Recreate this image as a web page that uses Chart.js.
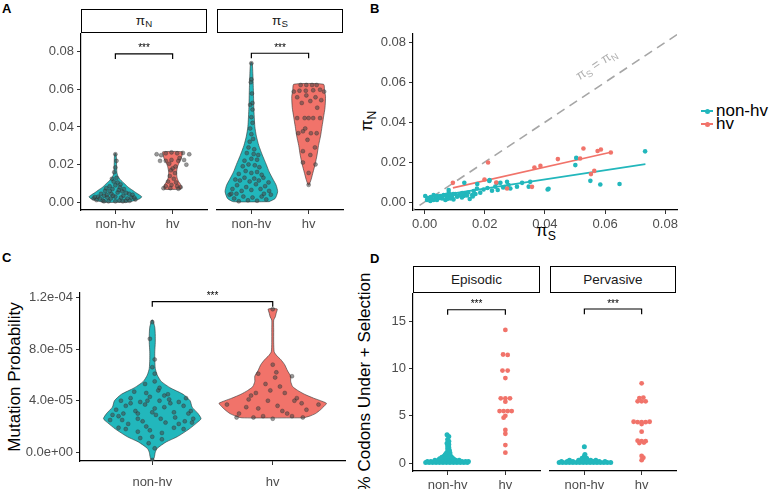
<!DOCTYPE html>
<html>
<head>
<meta charset="utf-8">
<script src="https://cdn.jsdelivr.net/npm/chart.js@4.4.1/dist/chart.umd.min.js"></script>
<style>
  body { margin: 0; background: #fff; font-family: 'Liberation Sans', Arial, sans-serif; }
  #fig { position: relative; width: 769px; height: 489px; overflow: hidden; }
  #fig canvas { position: absolute; }
  .strip { position: absolute; border: 1.3px solid #000; box-sizing: border-box; text-align: center; font-size: 13.5px; color: #1a1a1a; }
  .tag { position: absolute; font-weight: bold; font-size: 13px; line-height: 13px; }
  .lab { position: absolute; font-size: 17px; white-space: nowrap; color: #000; transform: translate(-50%, -50%); }
  .rot { transform: translate(-50%, -50%) rotate(-90deg); }
  .lab sub, .strip sub { font-size: 0.72em; vertical-align: -0.25em; }
  .key { position: absolute; }
</style>
</head>
<body>
<div id="fig">
  <div class="tag" style="left:2px;top:2px">A</div>
  <div class="tag" style="left:370px;top:2px">B</div>
  <div class="tag" style="left:2px;top:251px">C</div>
  <div class="tag" style="left:370px;top:252px">D</div>

  <div class="strip" style="left:81px;top:9px;width:126px;height:24px;line-height:22px">π<sub>N</sub></div>
  <div class="strip" style="left:217px;top:9px;width:126px;height:24px;line-height:22px">π<sub>S</sub></div>
  <div class="strip" id="stripD1" style="left:413px;top:266px;width:127px;height:27px;line-height:25px"></div>
  <div class="strip" id="stripD2" style="left:550px;top:266px;width:126px;height:27px;line-height:25px"></div>

  <div class="lab rot" style="left:368px;top:121px">π<sub>N</sub></div>
  <div class="lab" style="left:546px;top:232px">π<sub>S</sub></div>
  <div class="lab rot" style="left:15px;top:377px">Mutation Probability</div>
  <div class="lab rot" style="left:365px;top:382px">% Codons Under + Selection</div>

  <div id="legendB"></div>

  <canvas id="a1"></canvas>
  <canvas id="a2"></canvas>
  <canvas id="b"></canvas>
  <canvas id="c"></canvas>
  <canvas id="d1"></canvas>
  <canvas id="d2"></canvas>
</div>

<script>
// ---- data ----
const groups = ['non-hv', 'hv'];
const facetsD = ['Episodic', 'Pervasive'];

const ticksA = [0, 0.02, 0.04, 0.06, 0.08];
const ticksB = [0, 0.02, 0.04, 0.06, 0.08];
const ticksC = [0, 4e-5, 8e-5, 1.2e-4];
const tickLabelsC = ['0.0e+00', '4.0e-05', '8.0e-05', '1.2e-04'];
const ticksD = [0, 5, 10, 15];

// violin profiles: [value, half width in category units]
const violinPiNNon = [[0, 0.2], [0.001, 0.347], [0.002, 0.433], [0.003, 0.459], [0.004, 0.416], [0.005, 0.364],
  [0.0065, 0.295], [0.008, 0.225], [0.010, 0.156], [0.012, 0.087], [0.014, 0.043], [0.016, 0.026],
  [0.020, 0.021], [0.024, 0.017], [0.0259, 0.009]];
const violinPiNHv = [[0.0069, 0.139], [0.008, 0.156], [0.0095, 0.139], [0.011, 0.104], [0.013, 0.078], [0.016, 0.069],
  [0.019, 0.087], [0.021, 0.113], [0.023, 0.147], [0.025, 0.165], [0.0268, 0.173]];
const violinPiSNon = [[0.0003, 0.312], [0.002, 0.416], [0.0056, 0.459], [0.009, 0.433], [0.012, 0.381], [0.016, 0.312],
  [0.020, 0.26], [0.025, 0.191], [0.030, 0.13], [0.035, 0.087], [0.040, 0.061], [0.050, 0.043],
  [0.060, 0.035], [0.068, 0.026], [0.0738, 0.014]];
const violinPiSHv = [[0.0092, 0.009], [0.012, 0.043], [0.016, 0.078], [0.020, 0.113], [0.025, 0.147], [0.030, 0.173],
  [0.035, 0.208], [0.040, 0.234], [0.045, 0.26], [0.050, 0.286], [0.056, 0.295], [0.059, 0.277], [0.0624, 0.26]];
// mutation probability in units of 1e-5
const violinMutNon = [[-0.65, 0.004], [-0.4, 0.017], [0, 0.025], [0.3, 0.041], [0.8, 0.116], [1.2, 0.207], [1.8, 0.306],
  [2.3, 0.372], [2.6, 0.405], [3.0, 0.38], [3.5, 0.331], [4.0, 0.314], [4.5, 0.256], [5.0, 0.149], [5.5, 0.074],
  [6.0, 0.041], [6.5, 0.025], [7.2, 0.021], [7.8, 0.021], [8.5, 0.025], [9.1, 0.025], [9.7, 0.021], [10.26, 0.004]];
const violinMutHv = [[2.67, 0.256], [2.8, 0.306], [3.0, 0.355], [3.3, 0.397], [3.6, 0.43], [3.8, 0.446], [4.0, 0.397],
  [4.2, 0.339], [4.5, 0.264], [4.8, 0.207], [5.1, 0.165], [5.5, 0.149], [5.9, 0.149], [6.3, 0.124], [6.8, 0.099],
  [7.2, 0.066], [7.5, 0.033], [7.8, 0.012], [8.5, 0.008], [9.5, 0.008], [10.26, 0.008], [10.5, 0.021],
  [10.8, 0.029], [11.12, 0.037]];

// jittered observations: [offset from category, value]
const piNNon = [[-0.38, 0.002], [-0.30, 0.003], [-0.22, 0.001], [-0.15, 0.004], [-0.08, 0.002], [0, 0.003], [0.07, 0.001],
  [0.14, 0.0035], [0.21, 0.002], [0.28, 0.0025], [0.35, 0.0015], [-0.33, 0.0012], [-0.25, 0.0045], [-0.12, 0.0005],
  [0.04, 0.0052], [0.18, 0.0008], [0.30, 0.004], [-0.18, 0.006], [-0.05, 0.007], [0.06, 0.0065], [0.12, 0.0058],
  [-0.10, 0.0085], [0, 0.009], [0.08, 0.008], [-0.03, 0.011], [0.04, 0.0105], [-0.06, 0.0125], [0.02, 0.013],
  [0, 0.0185], [0.02, 0.022], [0, 0.0255], [-0.02, 0.016], [-0.20, 0.0035], [0.24, 0.0045], [-0.27, 0.002],
  [0.10, 0.0025], [-0.14, 0.0025], [0.19, 0.005], [-0.07, 0.0045], [0, 0.0005], [0.13, 0.0005], [-0.20, 0.0005],
  [0.25, 0.0008], [-0.10, 0.006], [0.15, 0.007], [-0.16, 0.0075], [0.09, 0.0095], [-0.04, 0.0035], [0.33, 0.0025],
  [-0.36, 0.0028]];
const piNHv = [[-0.28, 0.0255], [-0.20, 0.025], [-0.12, 0.026], [-0.02, 0.0265], [0.08, 0.026], [0.18, 0.0262],
  [0.29, 0.0255], [-0.22, 0.022], [-0.12, 0.022], [-0.02, 0.0225], [0.10, 0.022], [0.20, 0.0225], [0.24, 0.02],
  [-0.06, 0.0205], [0.05, 0.019], [-0.03, 0.017], [0.04, 0.0155], [-0.05, 0.014], [0.02, 0.0125], [-0.08, 0.011],
  [0.06, 0.0105], [-0.12, 0.0085], [-0.02, 0.0092], [0.08, 0.0085], [0.14, 0.008], [-0.16, 0.0075], [0.10, 0.0072],
  [-0.04, 0.0075], [0, 0.018], [0.12, 0.0235]];
const piSNon = [[-0.38, 0.004], [-0.30, 0.002], [-0.22, 0.0005], [-0.14, 0.003], [-0.06, 0.001], [0.02, 0.0025],
  [0.10, 0.0008], [0.18, 0.003], [0.26, 0.0015], [0.34, 0.004], [-0.33, 0.007], [-0.25, 0.009], [-0.17, 0.006],
  [-0.09, 0.008], [0, 0.0065], [0.08, 0.0095], [0.16, 0.007], [0.24, 0.0085], [0.31, 0.006], [-0.28, 0.012],
  [-0.20, 0.0115], [-0.12, 0.013], [-0.03, 0.011], [0.05, 0.0125], [0.13, 0.0115], [0.21, 0.013], [-0.22, 0.015],
  [-0.10, 0.0165], [0, 0.0155], [0.10, 0.016], [0.18, 0.0145], [-0.15, 0.019], [-0.05, 0.02], [0.06, 0.0195],
  [0.14, 0.0185], [-0.12, 0.022], [0, 0.023], [0.10, 0.0225], [-0.08, 0.026], [0.04, 0.0255], [0.12, 0.025],
  [-0.05, 0.029], [0.05, 0.028], [-0.03, 0.032], [0.03, 0.0335], [0, 0.036], [-0.02, 0.039], [0.02, 0.042],
  [0, 0.045], [0.02, 0.049], [-0.02, 0.0515], [0.02, 0.0525], [0.01, 0.0575], [-0.01, 0.0635], [0, 0.065],
  [0, 0.0735], [-0.35, 0.0045], [0.30, 0.0105], [-0.26, 0.0045], [0.22, 0.0045]];
const piSHv = [[-0.14, 0.062], [-0.04, 0.062], [0.06, 0.062], [0.14, 0.062], [-0.26, 0.0585], [0.27, 0.0585],
  [-0.16, 0.059], [-0.05, 0.059], [0.08, 0.0592], [0.20, 0.0595], [-0.20, 0.0555], [-0.04, 0.0565], [0.12, 0.0555],
  [0.22, 0.054], [-0.12, 0.0525], [0.03, 0.0535], [-0.20, 0.0445], [-0.07, 0.0445], [0, 0.0445], [0.08, 0.0445],
  [0.20, 0.0445], [-0.18, 0.0365], [-0.10, 0.0375], [0.04, 0.0365], [0.14, 0.0365], [-0.02, 0.033], [0.11, 0.029],
  [-0.10, 0.027], [0.03, 0.025], [-0.10, 0.021], [0.12, 0.02], [0, 0.0155], [-0.06, 0.039], [0.15, 0.05], [0, 0.0092]];
const mutNon = [[-0.35, 2.5], [-0.28, 2.8], [-0.20, 2.2], [-0.12, 2.6], [-0.05, 2.0], [0.03, 2.9], [0.11, 2.3], [0.19, 2.7],
  [0.27, 2.4], [0.34, 2.6], [-0.30, 3.3], [-0.22, 3.6], [-0.14, 3.2], [-0.06, 3.7], [0.02, 3.4], [0.10, 3.5],
  [0.18, 3.1], [0.26, 3.6], [0.32, 3.2], [-0.26, 4.0], [-0.18, 4.2], [-0.10, 3.9], [-0.02, 4.3], [0.06, 4.0],
  [0.14, 4.1], [0.22, 3.9], [0.28, 4.2], [-0.15, 4.7], [-0.05, 4.6], [0.05, 4.8], [0.13, 4.5], [-0.06, 5.3],
  [0.02, 5.5], [0.06, 5.0], [-0.22, 1.8], [-0.12, 1.6], [-0.02, 1.7], [0.08, 1.5], [0.18, 1.9], [-0.28, 1.9],
  [0.26, 1.8], [-0.10, 1.1], [0, 1.2], [0.08, 1.0], [-0.03, 0.7], [0.02, 0.3], [0, -0.6], [0, 6.6], [0.02, 7.2],
  [-0.02, 8.8], [0, 10.1], [0.02, 6.1], [-0.33, 2.9], [0.30, 3.0], [-0.24, 3.0], [0.22, 2.2], [-0.08, 2.4],
  [0.15, 3.8], [-0.18, 3.8], [0.07, 2.6], [-0.12, 3.0], [0, 3.1], [0.10, 4.4], [-0.25, 2.5], [0.33, 2.3], [-0.04, 4.0]];
const mutHv = [[-0.38, 3.7], [-0.28, 3.0], [-0.20, 4.1], [-0.12, 3.4], [-0.04, 4.0], [0.04, 3.6], [0.12, 3.0], [0.20, 4.2],
  [0.28, 3.3], [0.38, 3.7], [-0.30, 2.7], [-0.16, 2.7], [0, 2.6], [0.16, 2.8], [0.25, 2.7], [-0.08, 2.8],
  [-0.14, 4.6], [-0.02, 4.8], [0.10, 4.6], [0.18, 4.0], [-0.06, 5.3], [0.06, 5.1], [-0.12, 6.1], [0.02, 5.8],
  [0.16, 5.9], [0, 6.8], [0.03, 6.2], [-0.18, 4.4], [0.08, 3.2], [0, 11.1], [-0.22, 3.5], [0.24, 3.8]];
const epiNon = [[-0.38, 0.05], [-0.32, 0.05], [-0.26, 0.05], [-0.20, 0.05], [-0.14, 0.05], [-0.08, 0.05], [-0.02, 0.05],
  [0.04, 0.05], [0.10, 0.05], [0.16, 0.05], [0.22, 0.05], [0.28, 0.05], [0.34, 0.05],
  [-0.35, 0.15], [-0.29, 0.15], [-0.23, 0.15], [-0.17, 0.15], [-0.11, 0.15], [-0.05, 0.15], [0.01, 0.15],
  [0.07, 0.15], [0.13, 0.15], [0.19, 0.15], [0.25, 0.15], [0.31, 0.15], [0.36, 0.15],
  [-0.22, 0.3], [-0.16, 0.3], [-0.10, 0.3], [-0.04, 0.3], [0.02, 0.3], [0.08, 0.3], [0.14, 0.3], [0.20, 0.3],
  [-0.14, 0.45], [-0.08, 0.45], [-0.02, 0.45], [0.04, 0.45], [0.10, 0.45], [-0.10, 0.6], [-0.04, 0.6], [0.02, 0.6],
  [0.07, 0.6], [-0.06, 0.75], [0, 0.75], [0.05, 0.75], [-0.04, 0.9], [0.03, 0.9], [-0.02, 1.05], [0.04, 1.05],
  [0, 1.2], [0.03, 1.35], [0, 1.5], [0.02, 1.65], [0, 1.8], [0.02, 1.95], [-0.01, 2.1], [0.02, 2.3], [0, 2.5],
  [0.02, 2.8], [-0.01, 3.0]];
const epiHv = [[0, 14.1], [-0.04, 11.5], [0.04, 11.45], [-0.05, 9.8], [0.04, 9.8], [0, 9.0], [-0.08, 6.85], [0, 6.85],
  [0.08, 6.85], [0, 6.5], [-0.10, 5.5], [-0.03, 5.5], [0.04, 5.5], [0.11, 5.5], [0, 5.0], [-0.03, 4.8], [0, 3.5],
  [0, 3.1], [0, 1.9], [0, 1.1]];
const perNon = [[-0.44, 0.05], [-0.38, 0.05], [-0.32, 0.05], [-0.26, 0.05], [-0.20, 0.05], [-0.14, 0.05], [-0.08, 0.05],
  [-0.02, 0.05], [0.04, 0.05], [0.10, 0.05], [0.16, 0.05], [0.22, 0.05], [0.28, 0.05], [0.34, 0.05], [0.40, 0.05],
  [0.46, 0.05], [-0.40, 0.15], [-0.30, 0.15], [-0.20, 0.15], [-0.10, 0.15], [-0.02, 0.15], [0.06, 0.15],
  [0.16, 0.15], [0.26, 0.15], [0.36, 0.15], [-0.26, 0.28], [-0.10, 0.3], [-0.03, 0.3], [0.04, 0.3], [0.11, 0.3],
  [0.20, 0.28], [-0.04, 0.5], [0.04, 0.5], [0, 0.7], [0.01, 0.9], [0, 1.7]];
const perHv = [[0, 8.4], [-0.04, 6.85], [0.03, 6.9], [-0.07, 6.5], [0, 6.5], [0.07, 6.5], [-0.14, 4.35], [-0.07, 4.3],
  [0, 4.3], [0.07, 4.3], [0.14, 4.35], [0, 4.1], [0, 3.3], [-0.07, 2.35], [0, 2.3], [0.07, 2.3], [-0.04, 2.1],
  [0.04, 2.15], [0, 0.75], [0.03, 0.55], [0, 0.3]];

// panel B: [piS, piN]
const bNonHv = [[0.0002, 0.0030], [0.0008, 0.0010], [0.0013, 0.0018], [0.0019, 0.0005], [0.0025, 0.0013], [0.0030, 0.0035],
  [0.0036, 0.0022], [0.0041, 0.0010], [0.0047, 0.0027], [0.0052, 0.0030], [0.0058, 0.0018], [0.0063, 0.0035],
  [0.0069, 0.0010], [0.0074, 0.0027], [0.0080, 0.0047], [0.0085, 0.0018], [0.0091, 0.0030], [0.0096, 0.0013],
  [0.0102, 0.0040], [0.0108, 0.0027], [0.0116, 0.0035], [0.0124, 0.0023], [0.0130, 0.0030], [0.0135, 0.0043],
  [0.0141, 0.0033], [0.0150, 0.0015], [0.0158, 0.0035], [0.0163, 0.0055], [0.0169, 0.0040], [0.0174, 0.0068],
  [0.0185, 0.0047], [0.0196, 0.0063], [0.0209, 0.0070], [0.0216, 0.0110], [0.0224, 0.0057], [0.0235, 0.0077],
  [0.0243, 0.0060], [0.0252, 0.0096], [0.0261, 0.0073], [0.0274, 0.0101], [0.0279, 0.0085], [0.0285, 0.0068],
  [0.0307, 0.0077], [0.0324, 0.0096], [0.0346, 0.0077], [0.0351, 0.0101], [0.0409, 0.0063], [0.0504, 0.0221],
  [0.0501, 0.0185], [0.0412, 0.0066], [0.0551, 0.0106], [0.0584, 0.0088], [0.0648, 0.0090], [0.0733, 0.0254],
  [0.0010, 0.0020], [0.0020, 0.0025], [0.0030, 0.0010], [0.0040, 0.0030], [0.0050, 0.0020], [0.0060, 0.0028],
  [0.0070, 0.0035], [0.0075, 0.0015], [0.0080, 0.0025], [0.0085, 0.0038], [0.0090, 0.0020], [0.0095, 0.0040],
  [0.0110, 0.0030], [0.0120, 0.0038], [0.0125, 0.0045], [0.0145, 0.0048], [0.0160, 0.0028], [0.0080, 0.0060],
  [0.0132, 0.0096], [0.0175, 0.0090], [0.0215, 0.0105], [0.0240, 0.0095], [0.0265, 0.0075]];
const bHv = [[0.0094, 0.0096], [0.0211, 0.0198], [0.0199, 0.0113], [0.0238, 0.0098], [0.0274, 0.0068], [0.0365, 0.0173],
  [0.0385, 0.0181], [0.0357, 0.0076], [0.0443, 0.0215], [0.0528, 0.0268], [0.0517, 0.0218], [0.0575, 0.0256],
  [0.0586, 0.0263], [0.0619, 0.0248], [0.0553, 0.0140], [0.0564, 0.0156]];
const fitNonHv = [[0.0002, 0.0022], [0.0734, 0.0190]];
const fitHv = [[0.0094, 0.0071], [0.0619, 0.0249]];
const identityLine = [[-0.01, -0.01], [0.1, 0.1]];

// significance brackets: [low end, top]
const sigA = [0.0761, 0.0788];
const sigC = [11.3e-5, 11.69e-5];
const sigD = [15.7, 16.24];

// ---- drawing ----
const FONT = "'Liberation Sans', Arial, sans-serif";
const teal = '#22B7BC';
const red = '#F1736A';
const E5 = 1e-5;
const TICK_SIZE = 13;

const notesPlugin = {
  id: 'notes',
  afterDatasetsDraw(chart, args, opts) {
    const ctx = chart.ctx;
    (opts.items || []).forEach(it => {
      const x = chart.scales.x.getPixelForValue(it.x);
      const y = chart.scales.y.getPixelForValue(it.y) + (it.dy || 0);
      ctx.save();
      ctx.fillStyle = it.color || '#000';
      ctx.textBaseline = 'alphabetic';
      ctx.textAlign = 'left';
      ctx.translate(x, y);
      if (it.rot) ctx.rotate(it.rot);
      const parts = it.parts || [{ t: it.text }];
      let w = 0;
      parts.forEach(p => {
        ctx.font = (p.sub ? it.size * 0.72 : it.size) + 'px ' + FONT;
        w += ctx.measureText(p.t).width;
      });
      let cx = -w / 2;
      parts.forEach(p => {
        ctx.font = (p.sub ? it.size * 0.72 : it.size) + 'px ' + FONT;
        ctx.fillText(p.t, cx, p.sub ? it.size * 0.25 : 0);
        cx += ctx.measureText(p.t).width;
      });
      ctx.restore();
    });
  }
};
Chart.register(notesPlugin);

function violin(center, prof, k = 1) {
  const right = prof.map(([y, w]) => ({ x: center + w, y: y * k }));
  const left = prof.slice().reverse().map(([y, w]) => ({ x: center - w, y: y * k }));
  const pts = right.concat(left);
  pts.push(pts[0]);
  return pts;
}
function jitter(center, pts, k = 1) {
  return pts.map(([dx, v]) => ({ x: center + dx, y: v * k }));
}
function violinSet(data, color) {
  return { data, showLine: true, fill: 'shape', backgroundColor: color, borderColor: '#333',
    borderWidth: 0.6, pointRadius: 0, tension: 0.2 };
}
function dotSet(data) {
  return { data, showLine: false, pointRadius: 2, backgroundColor: 'rgba(70,70,70,0.55)',
    pointBorderColor: 'rgba(40,40,40,0.6)', pointBorderWidth: 0.5 };
}
function colorDots(data, color, r) {
  return { data, showLine: false, pointRadius: r, backgroundColor: color, pointBorderWidth: 0 };
}
function bracket(sig) {
  return { data: [{ x: 1, y: sig[0] }, { x: 1, y: sig[1] }, { x: 2, y: sig[1] }, { x: 2, y: sig[0] }],
    showLine: true, borderColor: '#000', borderWidth: 1.2, pointRadius: 0, fill: false };
}

const axisBase = {
  grid: { drawOnChartArea: false, tickLength: 4, tickColor: '#333', tickWidth: 1 },
  border: { display: true, color: '#000', width: 1.2 }
};
function catAxis(h, pad) {
  return Object.assign({}, axisBase, {
    type: 'linear', min: 0.4, max: 2.6,
    afterBuildTicks: s => { s.ticks = [{ value: 1 }, { value: 2 }]; },
    afterFit: s => { s.height = h; },
    ticks: { callback: v => groups[Math.round(v) - 1], color: '#4d4d4d', padding: pad,
      font: { size: TICK_SIZE, family: FONT }, maxRotation: 0, autoSkip: false }
  });
}
function numAxis(min, max, vals, labelFn, extent) {
  return Object.assign({}, axisBase, {
    type: 'linear', min, max,
    afterBuildTicks: s => { s.ticks = vals.map(v => ({ value: v })); },
    afterFit: s => { if (s.isHorizontal()) s.height = extent; else s.width = extent; },
    ticks: { callback: labelFn, color: '#4d4d4d', padding: 3, font: { size: TICK_SIZE, family: FONT },
      maxRotation: 0, autoSkip: false }
  });
}
function hiddenY(min, max) {
  return { type: 'linear', min, max, display: false };
}

// box: plot area in page pixels; m: margins [left(y axis), top, right, bottom(x axis)]
function makePanel(id, box, m, datasets, scales, notes) {
  const cv = document.getElementById(id);
  const w = box.r - box.l + m[0] + m[2];
  const h = box.b - box.t + m[1] + m[3];
  cv.width = w; cv.height = h;
  cv.style.left = (box.l - m[0]) + 'px';
  cv.style.top = (box.t - m[1]) + 'px';
  return new Chart(cv.getContext('2d'), {
    type: 'line',
    data: { datasets },
    options: {
      responsive: false, animation: false, events: [],
      layout: { padding: { left: scales.y.display === false ? m[0] : 0, top: m[1], right: m[2], bottom: 0 } },
      plugins: { legend: { display: false }, tooltip: { enabled: false }, notes: { items: notes } },
      scales
    }
  });
}

const fmt2 = v => v.toFixed(2);
const starNote = (y) => ({ x: 1.5, y, dy: -2.5, size: 10, parts: [{ t: '***' }] });

// Panel A
const yMinA = -0.0041, yMaxA = 0.0895;
makePanel('a1', { l: 81, t: 33, r: 207, b: 210 }, [81, 10, 6, 24], [
  bracket(sigA),
  dotSet(jitter(1, piNNon)), dotSet(jitter(2, piNHv)),
  violinSet(violin(1, violinPiNNon), teal), violinSet(violin(2, violinPiNHv), red)
], { x: catAxis(24, 3), y: numAxis(yMinA, yMaxA, ticksA, fmt2, 81) }, [starNote(sigA[1])]);

makePanel('a2', { l: 217, t: 33, r: 343, b: 210 }, [6, 10, 6, 24], [
  bracket(sigA),
  dotSet(jitter(1, piSNon)), dotSet(jitter(2, piSHv)),
  violinSet(violin(1, violinPiSNon), teal), violinSet(violin(2, violinPiSHv), red)
], { x: catAxis(24, 3), y: hiddenY(yMinA, yMaxA) }, [starNote(sigA[1])]);

// Panel B
const toXY = arr => arr.map(([x, y]) => ({ x, y }));
makePanel('b', { l: 413, t: 33, r: 677, b: 210 }, [33, 10, 16, 20], [
  colorDots(toXY(bHv), red, 2.3),
  colorDots(toXY(bNonHv), teal, 2.3),
  { data: toXY(fitHv), showLine: true, borderColor: red, borderWidth: 1.6, pointRadius: 0 },
  { data: toXY(fitNonHv), showLine: true, borderColor: teal, borderWidth: 1.6, pointRadius: 0 },
  { data: toXY(identityLine), showLine: true, borderColor: '#a6a6a6', borderWidth: 1.6, borderDash: [9, 6], pointRadius: 0 }
], {
  x: numAxis(-0.00386, 0.0839, ticksB, fmt2, 20),
  y: numAxis(-0.004, 0.0843, ticksB, fmt2, 33)
}, [{ x: 0.0578, y: 0.0692, dy: 4, rot: -Math.atan(2004 / 3009), size: 13, color: '#b0b0b0',
  parts: [{ t: 'π' }, { t: 'S', sub: true }, { t: ' = π' }, { t: 'N', sub: true }] }]);

// Panel C
makePanel('c', { l: 80, t: 293, r: 345, b: 461 }, [80, 12, 6, 28], [
  bracket(sigC),
  dotSet(jitter(1, mutNon, E5)), dotSet(jitter(2, mutHv, E5)),
  violinSet(violin(1, violinMutNon, E5), teal), violinSet(violin(2, violinMutHv, E5), red)
], {
  x: catAxis(28, 10),
  y: numAxis(-0.68e-5, 12.36e-5, ticksC, v => tickLabelsC[ticksC.findIndex(t => Math.abs(t - v) < 1e-9)], 80)
}, [starNote(sigC[1])]);

// Panel D
const yMinD = -0.845, yMaxD = 17.93;
makePanel('d1', { l: 413, t: 293, r: 540, b: 471 }, [33, 10, 6, 18], [
  bracket(sigD),
  colorDots(jitter(2, epiHv), red, 2.4),
  colorDots(jitter(1, epiNon), teal, 2.5)
], { x: catAxis(18, 3), y: numAxis(yMinD, yMaxD, ticksD, v => String(v), 33) }, [starNote(sigD[1])]);

makePanel('d2', { l: 550, t: 293, r: 676, b: 471 }, [6, 10, 6, 18], [
  bracket(sigD),
  colorDots(jitter(2, perHv), red, 2.4),
  colorDots(jitter(1, perNon), teal, 2.5)
], { x: catAxis(18, 3), y: hiddenY(yMinD, yMaxD) }, [starNote(sigD[1])]);

document.getElementById('stripD1').textContent = facetsD[0];
document.getElementById('stripD2').textContent = facetsD[1];

// legend for panel B
const legend = document.getElementById('legendB');
[[groups[0], teal, 111], [groups[1], red, 124]].forEach(([name, color, y]) => {
  legend.insertAdjacentHTML('beforeend',
    `<div class="key" style="left:701px;top:${y - 0.8}px;width:12px;height:1.6px;background:${color}"></div>` +
    `<div class="key" style="left:704.5px;top:${y - 2.5}px;width:5px;height:5px;border-radius:50%;background:${color}"></div>` +
    `<div class="key" style="left:716px;top:${y - 10}px;font-size:17px;line-height:20px">${name}</div>`);
});
</script>
</body>
</html>
